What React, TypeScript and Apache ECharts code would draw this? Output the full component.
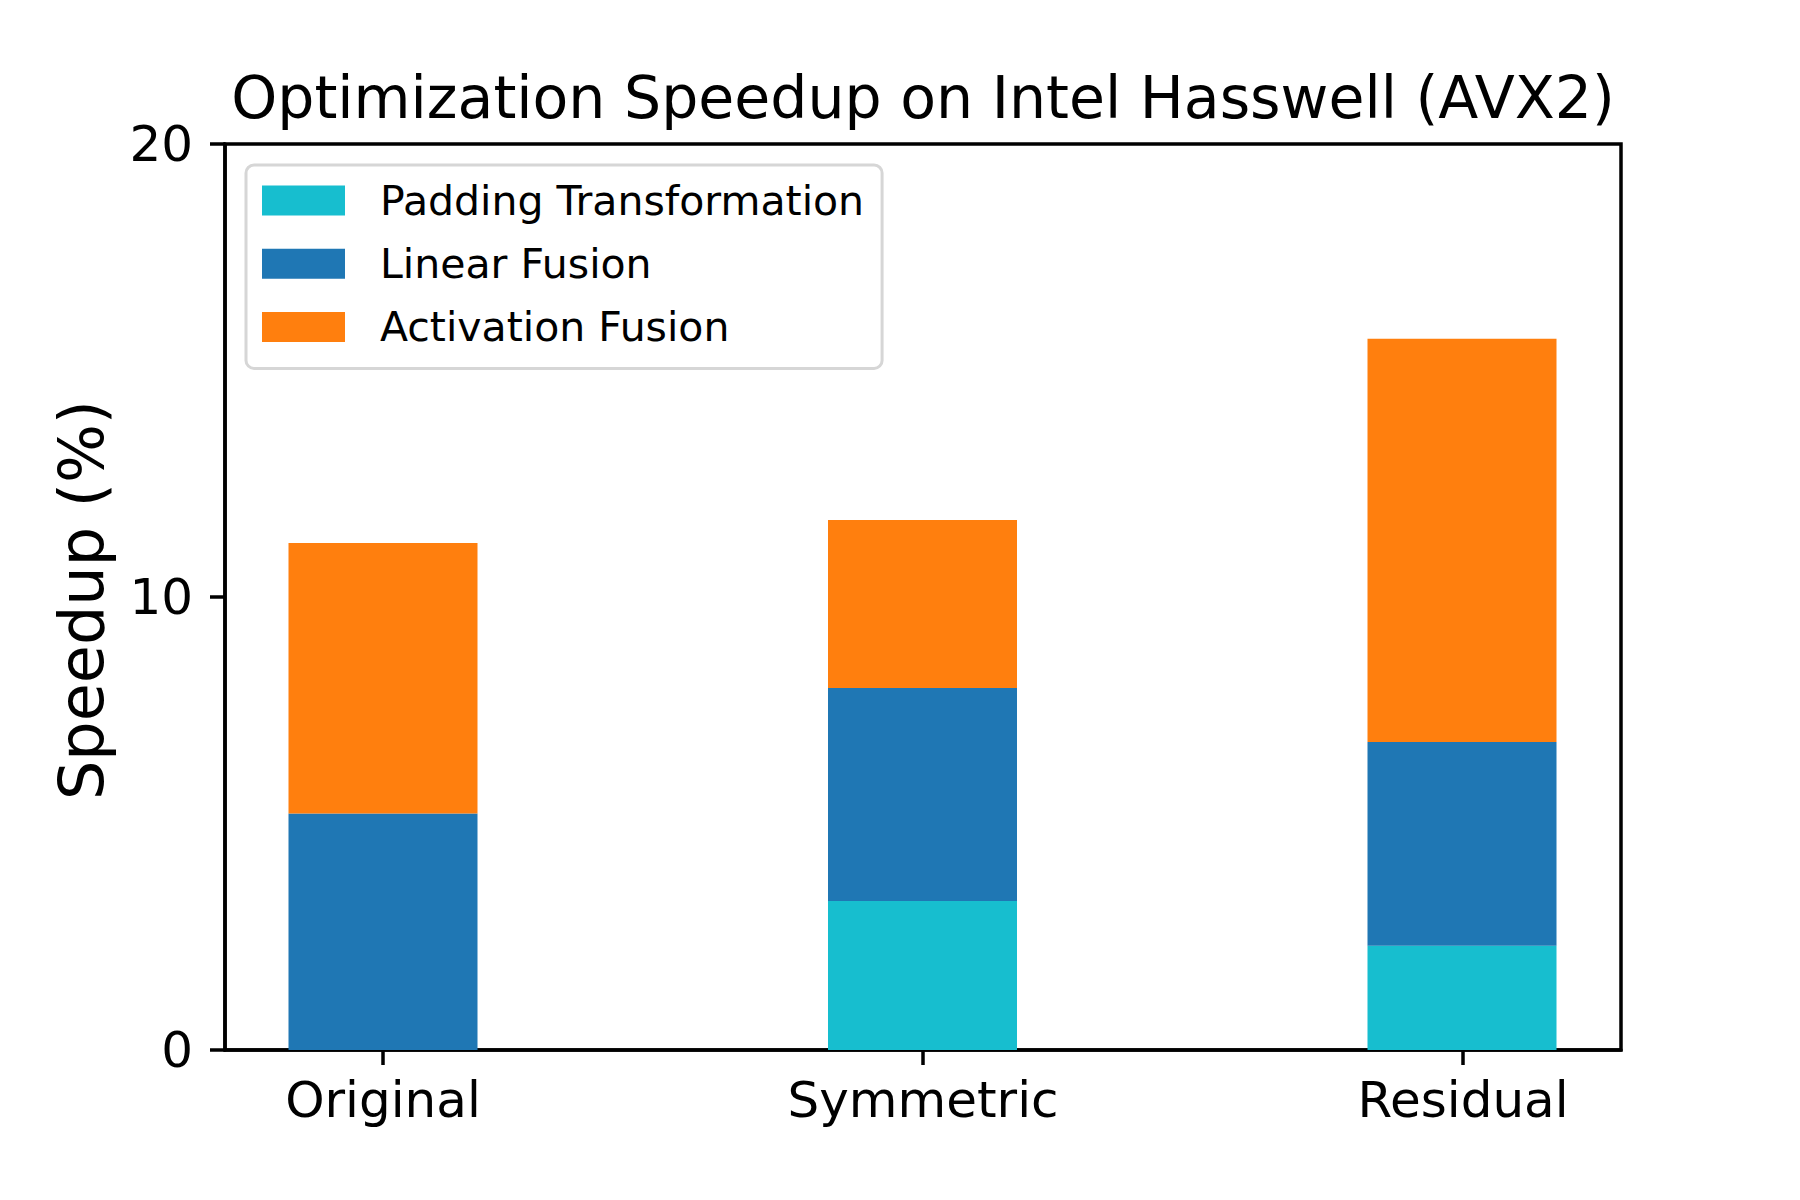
import React, { useEffect, useRef } from "react";
import * as echarts from "echarts";

const categories = ["Original", "Symmetric", "Residual"];
const seriesNames = ["Padding Transformation", "Linear Fusion", "Activation Fusion"];
const paddingValues = [0, 3.29, 2.3];
const linearValues = [5.22, 4.7, 4.5];
const activationValues = [5.97, 3.71, 8.9];
const yTicks = [0, 10, 20];
const colors = ["#17becf", "#1f77b4", "#ff7f0e"];

const FONT = "DejaVu Sans";

export default function App() {
  const ref = useRef<HTMLDivElement>(null);
  useEffect(() => {
    document.body.style.margin = "0";
    const chart = echarts.init(ref.current!, null, { renderer: "svg" });
    const allValues = [paddingValues, linearValues, activationValues];
    // frame grid: 225..1621 px; category bands of bar grid aligned so centers sit at matplotlib positions
    const option: any = {
      animation: false,
      backgroundColor: "#ffffff",
      textStyle: { fontFamily: FONT, color: "#000" },
      title: {
        text: "Optimization Speedup on Intel Hasswell (AVX2)",
        left: 923,
        top: 98,
        padding: 0,
        textAlign: "center",
        textVerticalAlign: "middle",
        textStyle: { fontFamily: FONT, fontSize: 58.5, fontWeight: "normal", color: "#000" },
      },
      legend: {
        data: seriesNames,
        orient: "vertical",
        left: 246,
        top: 165,
        padding: [15, 18, 21, 16],
        itemWidth: 83,
        itemHeight: 30,
        itemGap: 22.2,
        icon: "rect",
        borderColor: "#d6d6d6",
        borderWidth: 3,
        borderRadius: 8,
        backgroundColor: "rgba(255,255,255,0.8)",
        textStyle: { fontFamily: FONT, fontSize: 41, color: "#000", padding: [0, 0, 0, 30] },
      },
      grid: [
        {
          left: 225,
          right: 179,
          top: 144,
          bottom: 150,
          show: true,
          borderColor: "#000",
          borderWidth: 3.5,
          backgroundColor: "transparent",
        },
        {
          left: 113.25,
          right: 68.25,
          top: 144,
          bottom: 150,
          show: false,
        },
      ],
      xAxis: [
        {
          gridIndex: 0,
          type: "value",
          min: -0.2925,
          max: 2.2925,
          splitLine: { show: false },
          axisLine: { show: true, onZero: false, lineStyle: { color: "#000", width: 3.5 } },
          axisTick: { show: true, inside: false, length: 15, lineStyle: { color: "#000", width: 3.5 }, customValues: [0, 1, 2] },
          axisLabel: {
            customValues: [0, 1, 2],
            formatter: (v: number) => categories[Math.round(v)] ?? "",
            fontFamily: FONT,
            fontSize: 50,
            color: "#000",
            margin: 25,
          },
        },
        {
          gridIndex: 1,
          type: "category",
          data: categories,
          show: false,
        },
      ],
      yAxis: [
        {
          gridIndex: 0,
          type: "value",
          min: 0,
          max: 20,
          interval: 10,
          splitLine: { show: false },
          axisLine: { show: true, onZero: false, lineStyle: { color: "#000", width: 3.5 } },
          axisTick: { show: true, inside: false, length: 15, lineStyle: { color: "#000", width: 3.5 } },
          axisLabel: {
            fontFamily: FONT,
            fontSize: 50,
            color: "#000",
            margin: 32,
            formatter: (v: number) => (yTicks.includes(v) ? String(v) : ""),
          },
        },
        {
          gridIndex: 1,
          type: "value",
          min: 0,
          max: 20,
          show: false,
        },
      ],
      graphic: [
        {
          type: "text",
          x: 81,
          y: 600,
          rotation: Math.PI / 2,
          style: {
            text: "Speedup (%)",
            fontFamily: FONT,
            fontSize: 62,
            fill: "#000",
            textAlign: "center",
            textVerticalAlign: "middle",
          },
        },
      ],
      series: seriesNames.map((name, i) => ({
        name,
        type: "bar",
        stack: "total",
        xAxisIndex: 1,
        yAxisIndex: 1,
        barWidth: 189,
        itemStyle: { color: colors[i] },
        data: allValues[i],
      })),
    };
    chart.setOption(option);
    return () => chart.dispose();
  }, []);
  return <div ref={ref} style={{ width: 1800, height: 1200 }} />;
}
